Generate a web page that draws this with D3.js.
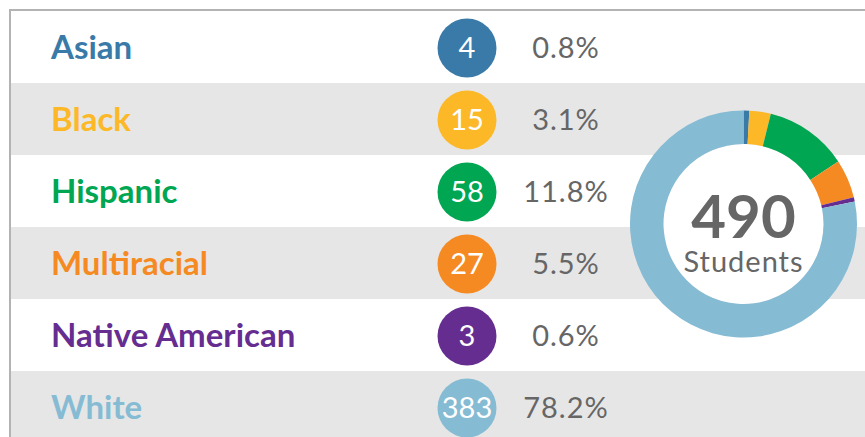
<!DOCTYPE html>
<html>
<head>
<meta charset="utf-8">
<script src="https://cdn.jsdelivr.net/npm/d3@7"></script>
<style>
  body { margin: 0; background: #fff; }
  svg { display: block; }
</style>
</head>
<body>
<div id="chart"></div>
<script>
// Enrollment by race / ethnicity
const categories = ['Asian', 'Black', 'Hispanic', 'Multiracial', 'Native American', 'White'];
const counts = [4, 15, 58, 27, 3, 383];
const percents = ['0.8%', '3.1%', '11.8%', '5.5%', '0.6%', '78.2%'];
const colors = ['#3a7aa8', '#fdb827', '#00a651', '#f58a23', '#662d91', '#86bbd4'];
const centerLabel = 'Students';

function renderTable(containerId) {
    const W = 865, H = 437;
    const container = d3.select(`#${containerId}`);
    container.selectAll('*').remove();

    const svg = container.append('svg')
        .attr('width', W)
        .attr('height', H);

    // rows
    const y = d3.scaleBand()
        .domain(categories)
        .range([11, 11 + 72 * categories.length]);

    const color = d3.scaleOrdinal().domain(categories).range(colors);

    svg.selectAll('.row')
        .data(categories)
        .enter()
        .append('rect')
        .attr('class', 'row')
        .attr('x', 11)
        .attr('y', d => y(d))
        .attr('width', W - 11)
        .attr('height', y.bandwidth())
        .attr('fill', (d, i) => i % 2 ? '#e6e6e6' : '#fff');

    // frame (top + left)
    svg.append('path')
        .attr('d', `M10,${H} V10 H${W}`)
        .attr('fill', 'none')
        .attr('stroke', '#b3b3b3')
        .attr('stroke-width', 2);

    const mid = d => y(d) + y.bandwidth() / 2;

    // category labels
    svg.selectAll('.label')
        .data(categories)
        .enter()
        .append('text')
        .attr('x', 51)
        .attr('y', d => mid(d))
        .attr('dy', '0.36em')
        .style('font-family', 'Lato, sans-serif')
        .style('font-weight', 'bold')
        .style('font-size', '33px')
        .attr('fill', d => color(d))
        .text(d => d);

    // count bubbles
    svg.selectAll('.bubble')
        .data(categories)
        .enter()
        .append('circle')
        .attr('cx', 467)
        .attr('cy', d => mid(d) + 1)
        .attr('r', 29.5)
        .attr('fill', d => color(d));

    svg.selectAll('.count')
        .data(categories)
        .enter()
        .append('text')
        .attr('x', 467)
        .attr('y', d => mid(d) + 1)
        .attr('dy', '0.36em')
        .attr('text-anchor', 'middle')
        .style('font-family', 'Lato, sans-serif')
        .style('font-size', '29px')
        .attr('fill', '#fff')
        .text((d, i) => counts[i]);

    // percentages
    svg.selectAll('.pct')
        .data(categories)
        .enter()
        .append('text')
        .attr('x', 566)
        .attr('y', d => mid(d) + 1)
        .attr('dy', '0.36em')
        .attr('text-anchor', 'middle')
        .style('font-family', 'Lato, sans-serif')
        .style('font-size', '29px')
        .style('letter-spacing', '1px')
        .attr('fill', '#666')
        .text((d, i) => percents[i]);

    // donut
    const cx = 743.5, cy = 224;
    const pie = d3.pie().sort(null).value(d => d.value);
    const arc = d3.arc().innerRadius(80).outerRadius(113.5);
    const arcs = pie(categories.map((c, i) => ({ key: c, value: counts[i] })));

    const donut = svg.append('g').attr('transform', `translate(${cx},${cy})`);
    donut.append('circle').attr('r', 80).attr('fill', '#fff');
    donut.selectAll('path')
        .data(arcs)
        .enter()
        .append('path')
        .attr('d', arc)
        .attr('fill', d => color(d.data.key));

    donut.append('text')
        .attr('y', 14)
        .attr('text-anchor', 'middle')
        .style('font-family', 'Lato, sans-serif')
        .style('font-weight', 'bold')
        .style('font-size', '60px')
        .attr('fill', '#666')
        .text(d3.sum(counts));

    donut.append('text')
        .attr('y', 48)
        .attr('text-anchor', 'middle')
        .style('font-family', 'Lato, sans-serif')
        .style('font-size', '29px')
        .style('letter-spacing', '1px')
        .attr('fill', '#666')
        .text(centerLabel);
}

renderTable('chart');
</script>
</body>
</html>
